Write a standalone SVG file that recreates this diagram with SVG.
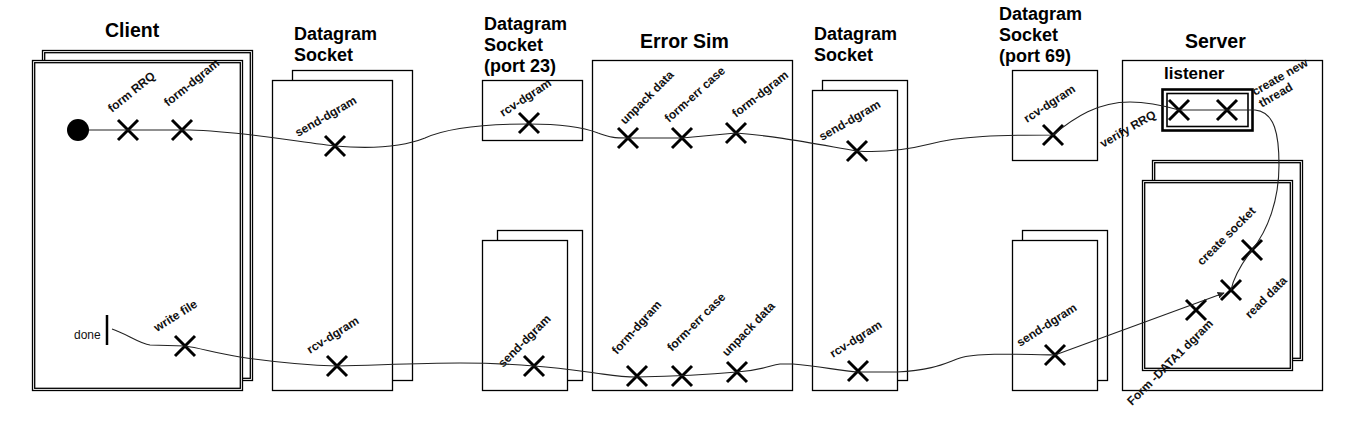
<svg xmlns="http://www.w3.org/2000/svg" width="1361" height="441" viewBox="0 0 1361 441">
<style>
.bx{fill:#fff;stroke:#000;stroke-width:1.3}
.title{font-family:"Liberation Sans",Arial,sans-serif;font-weight:bold;font-size:18px;fill:#000}
.big{font-size:19.5px}
.lbl{font-family:"Liberation Sans",Arial,sans-serif;font-weight:bold;font-size:12px;fill:#111}
.plain{font-family:"Liberation Sans",Arial,sans-serif;font-size:12px;fill:#111}
.conn{fill:none;stroke:#222;stroke-width:1.1}
.x{stroke:#000;stroke-width:3;fill:none}
</style>
<defs>
<path id="xm" class="x" d="M-10,-10 L10,10 M10,-10 L-10,10"/>
<marker id="ah" viewBox="0 0 10 10" refX="9" refY="5" markerWidth="7" markerHeight="7" orient="auto" markerUnits="userSpaceOnUse">
<path d="M0,0 L10,5 L0,10 z" fill="#222"/>
</marker>
</defs>
<rect width="1361" height="441" fill="#fff"/>

<g id="client">
<text class="title big" x="105" y="37">Client</text>
<rect class="bx" x="42.5" y="50.5" width="210" height="330"/>
<rect class="bx" x="44.7" y="52.7" width="205.6" height="325.6"/>
<rect class="bx" x="32.5" y="60.5" width="210" height="330"/>
<rect class="bx" x="34.7" y="62.7" width="205.6" height="325.6"/>
<circle cx="78" cy="130" r="11" fill="#000"/>
<use href="#xm" x="128" y="130"/>
<use href="#xm" x="182" y="130"/>
<use href="#xm" x="185" y="346"/>
<line x1="107" y1="315" x2="107" y2="345" stroke="#000" stroke-width="2.5"/>
<text class="plain" x="74" y="339">done</text>
<text class="lbl" transform="translate(112,113) rotate(-39)">form RRQ</text>
<text class="lbl" transform="translate(168,107) rotate(-39)">form-dgram</text>
<text class="lbl" transform="translate(157,332) rotate(-32)">write file</text>
</g>

<g id="dsock1">
<text class="title" x="294" y="40">Datagram</text>
<text class="title" x="294" y="61">Socket</text>
<rect class="bx" x="292.5" y="70.5" width="120" height="310"/>
<rect class="bx" x="272.5" y="80.5" width="120" height="310"/>
<use href="#xm" x="335" y="146"/>
<use href="#xm" x="337" y="366"/>
<text class="lbl" transform="translate(298,137) rotate(-30)">send-dgram</text>
<text class="lbl" transform="translate(310,354) rotate(-32)">rcv-dgram</text>
</g>

<g id="dsock23">
<text class="title" x="484" y="30">Datagram</text>
<text class="title" x="484" y="51">Socket</text>
<text class="title" x="484" y="72">(port 23)</text>
<rect class="bx" x="482.5" y="80.5" width="100" height="60"/>
<use href="#xm" x="529" y="123"/>
<text class="lbl" transform="translate(503,117) rotate(-33)">rcv-dgram</text>
</g>

<g id="dsock23b">
<rect class="bx" x="497.5" y="230.5" width="85" height="150"/>
<rect class="bx" x="482.5" y="240.5" width="85" height="150"/>
<use href="#xm" x="534" y="366"/>
<text class="lbl" transform="translate(503,368) rotate(-45)">send-dgram</text>
</g>

<g id="errsim">
<text class="title big" x="640" y="48">Error Sim</text>
<rect class="bx" x="592.5" y="60.5" width="200" height="330"/>
<use href="#xm" x="628" y="138"/>
<use href="#xm" x="682" y="138"/>
<use href="#xm" x="736" y="133"/>
<use href="#xm" x="637" y="376"/>
<use href="#xm" x="682" y="376"/>
<use href="#xm" x="737" y="372"/>
<text class="lbl" transform="translate(625,125) rotate(-45)">unpack data</text>
<text class="lbl" transform="translate(669,123) rotate(-42)">form-err case</text>
<text class="lbl" transform="translate(736,118) rotate(-38)">form-dgram</text>
<text class="lbl" transform="translate(617,355) rotate(-48)">form-dgram</text>
<text class="lbl" transform="translate(672,352) rotate(-45)">form-err case</text>
<text class="lbl" transform="translate(727,357) rotate(-46)">unpack data</text>
</g>

<g id="dsock3">
<text class="title" x="814" y="40">Datagram</text>
<text class="title" x="814" y="61">Socket</text>
<rect class="bx" x="822.5" y="80.5" width="85" height="300"/>
<rect class="bx" x="812.5" y="90.5" width="85" height="300"/>
<use href="#xm" x="857" y="151"/>
<use href="#xm" x="858" y="371"/>
<text class="lbl" transform="translate(822,141) rotate(-30)">send-dgram</text>
<text class="lbl" transform="translate(833,358) rotate(-32)">rcv-dgram</text>
</g>

<g id="dsock69">
<text class="title" x="999" y="20">Datagram</text>
<text class="title" x="999" y="41">Socket</text>
<text class="title" x="999" y="62">(port 69)</text>
<rect class="bx" x="1012.5" y="70.5" width="85" height="90"/>
<use href="#xm" x="1053" y="135"/>
<text class="lbl" transform="translate(1027,123) rotate(-33)">rcv-dgram</text>
</g>

<g id="dsock69b">
<rect class="bx" x="1022.5" y="230.5" width="85" height="150"/>
<rect class="bx" x="1012.5" y="240.5" width="85" height="150"/>
<use href="#xm" x="1055" y="355"/>
<text class="lbl" transform="translate(1020,347) rotate(-33)">send-dgram</text>
</g>

<g id="server">
<text class="title big" x="1185" y="48">Server</text>
<rect class="bx" x="1122.5" y="60.5" width="200" height="330"/>
<rect class="bx" x="1152.5" y="160.5" width="150" height="200"/>
<rect class="bx" x="1154.7" y="162.7" width="145.6" height="195.6"/>
<rect class="bx" x="1142.5" y="180.5" width="150" height="190"/>
<rect class="bx" x="1144.7" y="182.7" width="145.6" height="185.6"/>
<use href="#xm" x="1252" y="250"/>
<use href="#xm" x="1231" y="290"/>
<use href="#xm" x="1196" y="310"/>
<text class="lbl" transform="translate(1202,266) rotate(-45)">create socket</text>
<text class="lbl" transform="translate(1250,319) rotate(-45)">read data</text>
<text class="lbl" transform="translate(1132,406) rotate(-45)">Form -DATA1 dgram</text>
</g>

<g id="listener">
<text class="title" x="1164" y="79" style="font-size:17px">listener</text>
<rect x="1162.5" y="89.5" width="90" height="41" fill="#fff" stroke="#000" stroke-width="2.6"/>
<rect x="1167" y="93.5" width="81" height="33" fill="none" stroke="#000" stroke-width="1.6"/>
<use href="#xm" x="1179" y="110"/>
<use href="#xm" x="1227" y="110"/>
<text class="lbl" transform="translate(1103,148) rotate(-30)">verify RRQ</text>
<text class="lbl" transform="translate(1255,96) rotate(-30)"><tspan x="0" y="0">create new</tspan><tspan x="0" y="13.5">thread</tspan></text>
</g>

<g id="connectors">
<path class="conn" d="M89,130 L190,130 C240,131 290,141 335,146 C370,149 400,148 425,138 C445,129 480,124 529,124 C565,124 585,128 598,133 C610,137 612,138 628,138 L682,138 L736,133 C775,136 805,142 857,151 C885,153 910,149 930,144 C960,136 1000,135 1053,135 C1075,117 1098,102 1130,102 C1150,102 1165,106 1179,110 L1255,110 C1275,112 1279,135 1279,165 C1279,200 1268,230 1252,250 C1242,263 1234,276 1231,290"/>
<path class="conn" d="M1055,355 L1224,293" marker-end="url(#ah)"/>
<path class="conn" d="M1055,355 C1010,354 975,353 960,358 C945,363 935,370 897,372 L858,372 C840,371 820,366 793,364 L780,364 C770,365 765,370 737,372 C715,374 690,376 637,377 C620,377 610,375 595,373 C580,371 560,368 534,366 C510,364 480,363 460,363 C420,363 380,365 337,366 C300,365 260,360 240,357 C215,353 200,348 185,346 L150,345 C140,344 125,333 112,329"/>
</g>
</svg>
